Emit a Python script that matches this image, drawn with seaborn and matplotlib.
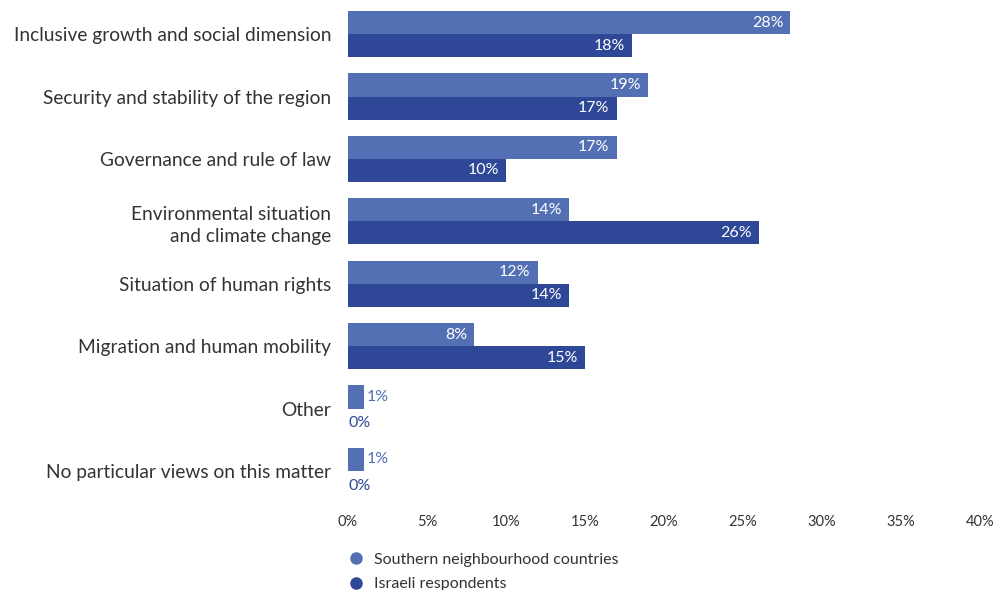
import numpy as np
import pandas as pd
import matplotlib
matplotlib.use('Agg')
import matplotlib.pyplot as plt
import seaborn as sns
from matplotlib.lines import Line2D

# chart data
categories = ['Inclusive growth and social dimension',
              'Security and stability of the region',
              'Governance and rule of law',
              'Environmental situation\nand climate change',
              'Situation of human rights',
              'Migration and human mobility',
              'Other',
              'No particular views on this matter']
southern = [28, 19, 17, 14, 12, 8, 1, 1]
israeli = [18, 17, 10, 26, 14, 15, 0, 0]
series_names = ['Southern neighbourhood countries', 'Israeli respondents']
xticks = [0, 5, 10, 15, 20, 25, 30, 35, 40]

light = '#5470B5'
dark = '#2E4797'

df = pd.DataFrame({
    'category': categories * 2,
    'value': southern + israeli,
    'group': [series_names[0]] * len(categories) + [series_names[1]] * len(categories),
})

sns.set_theme(style='white')
plt.rcParams['font.family'] = ['Lato', 'DejaVu Sans']

fig = plt.figure(figsize=(10.03, 5.9), dpi=100)
ax = fig.add_axes([0.347, 0.149, 0.630, 0.846])

sns.barplot(data=df, x='value', y='category', hue='group', orient='h',
            palette=[light, dark], width=0.74, saturation=1, ax=ax,
            legend=False, errorbar=None, linewidth=0)

ax.set_xlim(0, 40)
ax.set_ylim(7.5, -0.5)
ax.set_xlabel('')
ax.set_ylabel('')
ax.set_xticks(xticks)
ax.set_xticklabels([f'{t}%' for t in xticks], fontsize=10.5, color='#333333')
ax.tick_params(axis='x', length=0, pad=9)
ax.tick_params(axis='y', length=0, pad=12)
for lab in ax.get_yticklabels():
    lab.set_fontsize(13.8)
    lab.set_color('#333333')
    lab.set_horizontalalignment('right')
    lab.set_multialignment('right')
    lab.set_linespacing(1.35)
for s in ax.spines.values():
    s.set_visible(False)

# value labels
for cont, col in zip(ax.containers, [light, dark]):
    for bar in cont:
        w = bar.get_width()
        yc = bar.get_y() + bar.get_height() / 2
        if w >= 5:
            ax.text(w - 0.45, yc, f'{w:.0f}%', ha='right', va='center',
                    color='white', fontsize=11.5)
        elif w > 0:
            ax.text(w + 0.15, yc, f'{w:.0f}%', ha='left', va='center',
                    color=col, fontsize=11.5)
        else:
            ax.text(0.02, yc + 0.05, f'{w:.0f}%', ha='left', va='center',
                    color=col, fontsize=11.5)

handles = [Line2D([0], [0], marker='o', linestyle='', markersize=8,
                  markerfacecolor=c, markeredgecolor=c) for c in [light, dark]]
leg = fig.legend(handles, series_names, loc='upper left',
                 bbox_to_anchor=(0.333, 0.074), frameon=False, fontsize=11.5,
                 handletextpad=0.1, labelspacing=0.65, borderaxespad=0)
for t in leg.get_texts():
    t.set_color('#333333')

fig.savefig('out.png', dpi=100)
